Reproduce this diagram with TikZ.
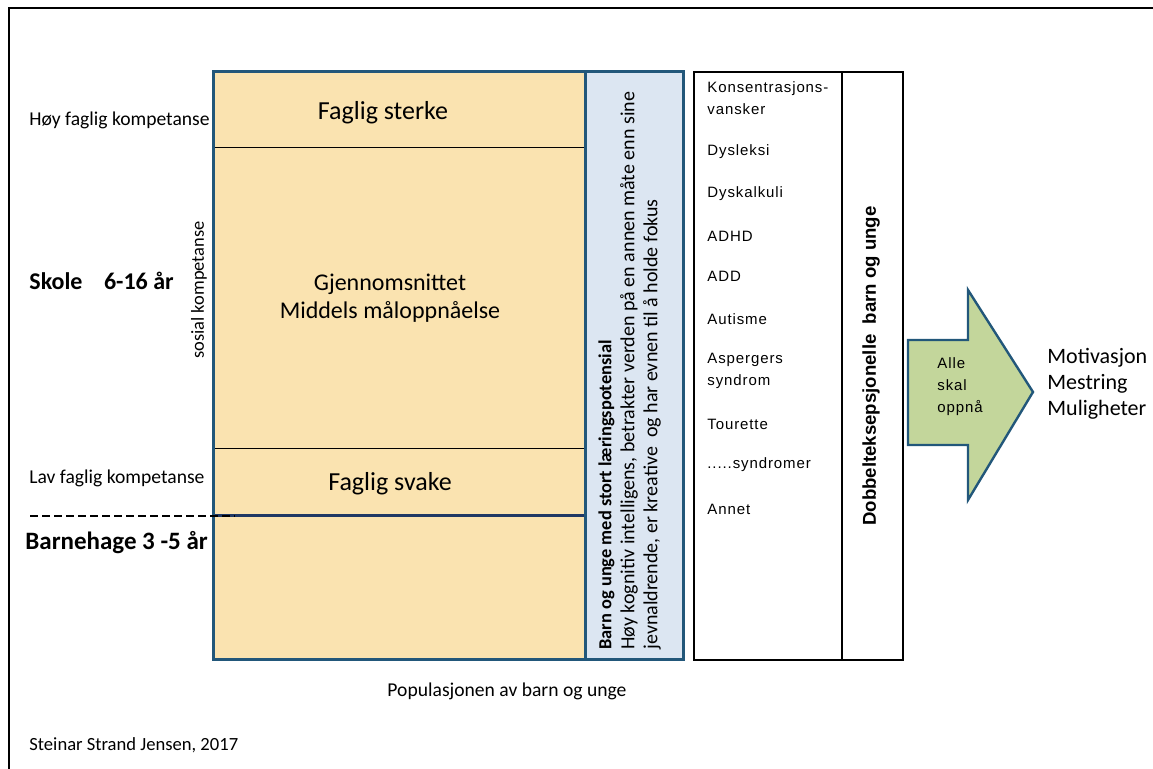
\documentclass[tikz,border=0pt]{standalone}
\usepackage{fontspec}
\setmainfont{Carlito}
\newfontfamily\arialfont[LetterSpace=6]{Liberation Sans}
\newfontfamily\arialbold{Liberation Sans}
\usepackage{tikz}
\definecolor{sand}{HTML}{FAE3B0}
\definecolor{iceblue}{HTML}{DCE6F2}
\definecolor{navy}{HTML}{22577A}
\definecolor{darknavy}{HTML}{1F3864}
\definecolor{sage}{HTML}{C3D69B}
\tikzset{
    sidelabel/.style={anchor=west, inner sep=0pt, font=\fontsize{9.8}{11}\selectfont},
    agelabel/.style={anchor=west, inner sep=0pt, font=\fontsize{12.5}{14}\selectfont\bfseries},
    bandlabel/.style={inner sep=0pt, align=center, font=\fontsize{13}{14}\selectfont},
    listitem/.style={anchor=west, inner sep=0pt, align=left, font=\arialfont\fontsize{7.5}{11}\selectfont},
}

\begin{document}
\begin{tikzpicture}[x=0.5pt,y=-0.5pt]
    \useasboundingbox (0,0) rectangle (1153,769);
    \begin{scope}
    % frame
    \draw[line width=1pt] (9,769) -- (9,8) -- (1153,8);

    % population box
    \fill[sand] (213,72) rectangle (585,660);
    \draw[line width=0.5pt] (213,148) -- (585,148);%sterke
    \draw[line width=0.5pt] (213,449) -- (585,449);%svake
    \draw[darknavy, line width=1.5pt] (213,516) -- (585,516);%barnehage
    \draw[navy, line width=1.5pt] (213,72) rectangle (585,660);
    \draw[line width=1.2pt, dash pattern=on 4pt off 2pt] (30,516) -- (235,516);

    % learning potential column
    \draw[navy, line width=1.5pt, fill=iceblue] (585,72) rectangle (683,660);

    % list box
    \draw[line width=0.6pt] (694,72) rectangle (903,660);
    \draw[line width=0.6pt] (842,72) -- (842,660);

    % arrow
    \draw[navy, line width=1.2pt, fill=sage] (908,340) -- (968,340) -- (968,290)
        -- (1033,392) -- (968,500) -- (968,445) -- (908,445) -- cycle;

    % labels left
    \node[sidelabel] (hoy) at (29,120) {Høy faglig kompetanse};
    \node[agelabel, font=\fontsize{12}{14}\selectfont\bfseries] (skole) at (29,281) {Skole\hspace{0.9em}6-16 år};
    \node[sidelabel, anchor=center, rotate=90, font=\fontsize{9.2}{11}\selectfont] (sosial) at (199,290) {sosial kompetanse};
    \node[sidelabel] (lav) at (29,478) {Lav faglig kompetanse};
    \node[agelabel] (barnehage) at (25,543) {Barnehage 3 -5 år};

    % labels bands
    \node[bandlabel] (sterke) at (383,113) {Faglig sterke};
    \node[bandlabel, font=\fontsize{12}{14}\selectfont] (snitt) at (390,298) {Gjennomsnittet\\Middels måloppnåelse};
    \node[bandlabel] (svake) at (390,484) {Faglig svake};

    % labels column
    \node[rotate=90, anchor=north west, inner sep=0pt, align=left,
        font=\fontsize{10}{11.5}\selectfont] (potensial) at (598,650)
        {{\fontsize{9.2}{11.5}\selectfont\bfseries Barn og unge med stort læringspotensial}\\
        Høy kognitiv intelligens, betrakter verden på en annen måte enn sine\\
        jevnaldrende, er kreative\ \ og har evnen til å holde fokus};

    % labels list
    \node[listitem] (konsentrasjon) at (707,98) {Konsentrasjons-\\vansker};
    \node[listitem] (dysleksi) at (707,152) {Dysleksi};
    \node[listitem] (dyskalkuli) at (707,194) {Dyskalkuli};
    \node[listitem] (adhd) at (707,236) {ADHD};
    \node[listitem] (add) at (707,276) {ADD};
    \node[listitem] (autisme) at (707,319) {Autisme};
    \node[listitem] (asperger) at (707,371) {Aspergers\\syndrom};
    \node[listitem] (tourette) at (707,424) {Tourette};
    \node[listitem] (syndromer) at (707,465) {.....syndromer};
    \node[listitem] (annet) at (707,509) {Annet};
    \node[rotate=90, inner sep=0pt, font=\arialbold\fontsize{9.3}{10}\selectfont\bfseries]
        (dobbel) at (871,366) {Dobbelteksepsjonelle\ \ barn og unge};

    % labels arrow and goals
    \node[listitem, anchor=north west] (alle) at (937,357) {Alle\\skal\\oppnå};
    \node[anchor=west, inner sep=0pt, align=left, font=\fontsize{11}{13}\selectfont]
        (maal) at (1047,384) {Motivasjon\\Mestring\\Muligheter};

    % labels bottom
    \node[sidelabel, anchor=center] (populasjon) at (507,691) {Populasjonen av barn og unge};
    \node[sidelabel, font=\fontsize{9.3}{11}\selectfont] (kilde) at (29,745) {Steinar Strand Jensen, 2017};
    \end{scope}
\end{tikzpicture}
\end{document}
